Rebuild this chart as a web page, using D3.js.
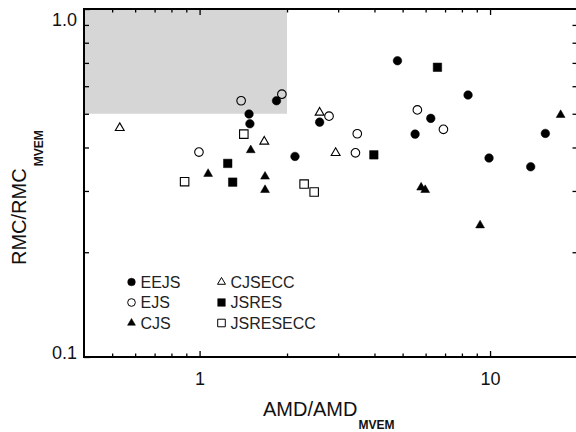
<!DOCTYPE html>
<html>
<head>
<meta charset="utf-8">
<script src="https://cdn.jsdelivr.net/npm/d3@7"></script>
<style>
body { margin: 0; background: #fff; }
text { font-family: "Liberation Sans", Arial, Helvetica, sans-serif; }
</style>
</head>
<body>
<div id="chart"></div>
<script>
// data: [AMD/AMD_MVEM, RMC/RMC_MVEM]
var eejs = [[1.84,0.545],[1.48,0.499],[1.49,0.468],[2.13,0.377],[4.80,0.710],[8.40,0.566],
            [2.59,0.473],[6.25,0.485],[5.52,0.437],[15.5,0.439],[9.92,0.373],[13.8,0.352]];
var ejs = [[1.39,0.545],[1.92,0.569],[0.995,0.388],[2.79,0.492],[5.62,0.513],[3.49,0.438],
           [6.91,0.451],[3.44,0.386]];
var cjs = [[1.50,0.393],[1.07,0.336],[1.68,0.330],[1.68,0.302],[17.5,0.496],[5.79,0.307],
           [5.98,0.302],[9.24,0.239]];
var cjsecc = [[0.531,0.455],[1.67,0.416],[2.59,0.504],[2.94,0.386]];
var jsres = [[1.25,0.360],[1.30,0.318],[6.59,0.680],[3.98,0.381]];
var jsresecc = [[1.42,0.437],[0.888,0.319],[2.29,0.314],[2.48,0.298]];

var seriesNames = ["EEJS", "EJS", "CJS", "CJSECC", "JSRES", "JSRESECC"];
var seriesData = [eejs, ejs, cjs, cjsecc, jsres, jsresecc];

var shadeX = [0.4, 2];
var shadeY = [0.5, 1.0];

var xMajor = [1, 10];
var xMajorLabels = ["1", "10"];
var xMinor = [0.5, 0.6, 0.7, 0.8, 0.9, 2, 3, 4, 5, 6, 7, 8, 9];
var yMajor = [0.1, 1.0];
var yMajorLabels = ["0.1", "1.0"];
var yMinor = [0.2, 0.3, 0.4, 0.5, 0.6, 0.7, 0.8, 0.9];

var W = 576, H = 432;
var plot = {left: 84, top: 9, right: 577.5, bottom: 357};

var svg = d3.select("#chart").append("svg")
            .attr("width", W).attr("height", H);

var x = d3.scaleLog().domain([0.4, 20]).range([plot.left, plot.right]);
var y = d3.scaleLog().domain([0.1, 1.0]).range([plot.bottom, plot.top]);

// marker styles
var symType = [d3.symbolCircle, d3.symbolCircle, d3.symbolTriangle,
               d3.symbolTriangle, d3.symbolSquare, d3.symbolSquare];
var symSize = [58, 58, 34, 34, 72, 72];
var filled = [true, false, true, false, true, false];

// grey box
svg.append("rect")
   .attr("x", x(shadeX[0]))
   .attr("y", y(shadeY[1]))
   .attr("width", x(shadeX[1]) - x(shadeX[0]))
   .attr("height", y(shadeY[0]) - y(shadeY[1]))
   .attr("fill", "#d6d6d6");

// axes, ticks pointing inwards on all four sides
function styleAxis(g) {
    g.select(".domain").remove();
    g.selectAll("line").attr("stroke", "#000").attr("stroke-width", 1.3);
    g.selectAll("text").attr("fill", "#111").style("font-size", "18px");
}

var fx = (d) => xMajorLabels[xMajor.indexOf(d)];
var fy = (d) => yMajorLabels[yMajor.indexOf(d)];

svg.append("g").attr("transform", "translate(0," + plot.bottom + ")")
   .call(d3.axisBottom(x).tickValues(xMajor).tickFormat(fx).tickSizeInner(-6).tickSizeOuter(0).tickPadding(15))
   .call(styleAxis);
svg.append("g").attr("transform", "translate(0," + plot.bottom + ")")
   .call(d3.axisBottom(x).tickValues(xMinor).tickFormat("").tickSizeInner(-3.5).tickSizeOuter(0))
   .call(styleAxis);
svg.append("g").attr("transform", "translate(0," + plot.top + ")")
   .call(d3.axisTop(x).tickValues(xMajor).tickFormat("").tickSizeInner(-6).tickSizeOuter(0))
   .call(styleAxis);
svg.append("g").attr("transform", "translate(0," + plot.top + ")")
   .call(d3.axisTop(x).tickValues(xMinor).tickFormat("").tickSizeInner(-3.5).tickSizeOuter(0))
   .call(styleAxis);

svg.append("g").attr("transform", "translate(" + plot.left + ",0)")
   .call(d3.axisLeft(y).tickValues(yMajor).tickFormat(fy).tickSizeInner(-6).tickSizeOuter(0).tickPadding(7))
   .call(styleAxis)
   .selectAll("text").attr("dy", (d) => d == 1 ? "16px" : "1px");
svg.append("g").attr("transform", "translate(" + plot.left + ",0)")
   .call(d3.axisLeft(y).tickValues(yMinor).tickFormat("").tickSizeInner(-5).tickSizeOuter(0))
   .call(styleAxis);
svg.append("g").attr("transform", "translate(" + plot.right + ",0)")
   .call(d3.axisRight(y).tickValues(yMinor).tickFormat("").tickSizeInner(-5).tickSizeOuter(0))
   .call(styleAxis);

// frame
svg.append("rect")
   .attr("x", plot.left).attr("y", plot.top)
   .attr("width", plot.right - plot.left).attr("height", plot.bottom - plot.top)
   .attr("fill", "none").attr("stroke", "#000").attr("stroke-width", 2);

// points
seriesData.forEach(function(data, i) {
    svg.append("g").attr("class", "series-" + seriesNames[i])
       .selectAll("path").data(data).enter().append("path")
       .attr("transform", (d) => "translate(" + x(d[0]) + "," + y(d[1]) + ")")
       .attr("d", d3.symbol().type(symType[i]).size(symSize[i]))
       .attr("fill", filled[i] ? "#000" : "none")
       .attr("stroke", "#000")
       .attr("stroke-width", filled[i] ? 0.5 : 1.1);
});

// legend
var leg = svg.append("g").attr("class", "legend");
seriesNames.forEach(function(name, i) {
    var col = Math.floor(i / 3), row = i % 3;
    var lx = 131.5 + col * 90, ly = 282 + row * 20.5;
    leg.append("path")
       .attr("transform", "translate(" + lx + "," + ly + ")")
       .attr("d", d3.symbol().type(symType[i]).size(symSize[i] * 0.8))
       .attr("fill", filled[i] ? "#000" : "none")
       .attr("stroke", "#000")
       .attr("stroke-width", filled[i] ? 0.5 : 1);
    leg.append("text")
       .attr("x", lx + 9).attr("y", ly + 5.5)
       .attr("fill", "#222")
       .style("font-size", "16px")
       .text(name);
});

// axis titles
var xt = svg.append("text").attr("x", 263).attr("y", 416)
            .attr("fill", "#111").style("font-size", "20px");
xt.append("tspan").text("AMD/AMD");
xt.append("tspan").attr("dy", 13).attr("dx", 1).style("font-size", "12px")
  .style("font-weight", "bold").text("MVEM");

var yt = svg.append("text").attr("transform", "translate(26,265) rotate(-90)")
            .attr("fill", "#111").style("font-size", "20px");
yt.append("tspan").text("RMC/RMC");
yt.append("tspan").attr("dy", 17).attr("dx", 2).style("font-size", "12px")
  .style("font-weight", "bold").text("MVEM");
</script>
</body>
</html>
